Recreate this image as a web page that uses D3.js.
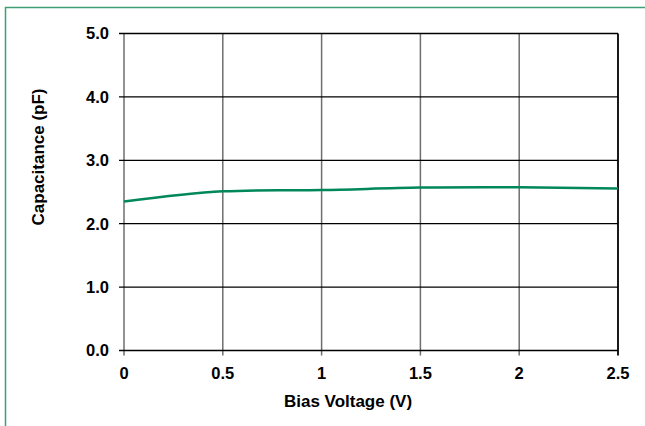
<!DOCTYPE html>
<html>
<head>
<meta charset="utf-8">
<script src="https://cdn.jsdelivr.net/npm/d3@7"></script>
<style>
  body { margin: 0; background: #fff; }
  text { font-family: "Liberation Sans", Arial, sans-serif; font-weight: bold; fill: #000; }
</style>
</head>
<body>
<svg id="chart"></svg>
<script>
// data
var voltage = [0, 0.5, 1, 1.5, 2, 2.5];
var capacitance = [2.35, 2.51, 2.53, 2.57, 2.575, 2.555];
var xTicks = [0, 0.5, 1, 1.5, 2, 2.5];
var yTicks = [0, 1, 2, 3, 4, 5];
var xTitle = "Bias Voltage (V)";
var yTitle = "Capacitance (pF)";

var W = 645, H = 426;
var plotL = 124, plotR = 618, plotT = 33.5, plotB = 350.5;

var svg = d3.select("#chart").attr("width", W).attr("height", H);

// outer frame (clipped on right/bottom like the picture)
svg.append("rect")
  .attr("x", 5.5).attr("y", 7.5)
  .attr("width", 700).attr("height", 500)
  .attr("fill", "none")
  .attr("stroke", "#3f9e74")
  .attr("stroke-width", 1.5);

var x = d3.scaleLinear().domain([0, 2.5]).range([plotL, plotR]);
var y = d3.scaleLinear().domain([0, 5]).range([plotB, plotT]);

// vertical grid (grey)
svg.selectAll("line.vgrid")
  .data(xTicks.filter(function(d){ return d < 2.5; }))
  .enter().append("line")
  .attr("class", "vgrid")
  .attr("x1", function(d){ return x(d); })
  .attr("x2", function(d){ return x(d); })
  .attr("y1", plotT).attr("y2", plotB + 5)
  .attr("stroke", "#6e6e6e")
  .attr("stroke-width", 1.5);

// horizontal grid (black)
svg.selectAll("line.hgrid")
  .data(yTicks)
  .enter().append("line")
  .attr("class", "hgrid")
  .attr("x1", plotL - 5).attr("x2", plotR)
  .attr("y1", function(d){ return y(d); })
  .attr("y2", function(d){ return y(d); })
  .attr("stroke", "#000")
  .attr("stroke-width", 1.3);

// right border
svg.append("line")
  .attr("x1", plotR).attr("x2", plotR)
  .attr("y1", plotT).attr("y2", plotB + 5)
  .attr("stroke", "#000")
  .attr("stroke-width", 1.8);

// tick labels
svg.selectAll("text.ylab")
  .data(yTicks)
  .enter().append("text")
  .attr("class", "ylab")
  .attr("x", 109)
  .attr("y", function(d){ return y(d); })
  .attr("dy", "0.36em")
  .attr("text-anchor", "end")
  .style("font-size", "16.5px")
  .text(function(d){ return d3.format(".1f")(d); });

svg.selectAll("text.xlab")
  .data(xTicks)
  .enter().append("text")
  .attr("class", "xlab")
  .attr("x", function(d){ return x(d); })
  .attr("y", 379)
  .attr("text-anchor", "middle")
  .style("font-size", "16.5px")
  .text(function(d){ return d; });

// axis titles
svg.append("text")
  .attr("x", 348).attr("y", 407)
  .attr("text-anchor", "middle")
  .style("font-size", "17px")
  .text(xTitle);

svg.append("text")
  .attr("transform", "translate(44,157) rotate(-90)")
  .attr("text-anchor", "middle")
  .style("font-size", "17px")
  .text(yTitle);

// curve
var pts = voltage.map(function(v, i){ return [v, capacitance[i]]; });
var line = d3.line()
  .x(function(d){ return x(d[0]); })
  .y(function(d){ return y(d[1]); })
  .curve(d3.curveCatmullRom.alpha(0.5));

svg.append("path")
  .datum(pts)
  .attr("d", line)
  .attr("fill", "none")
  .attr("stroke", "#00875a")
  .attr("stroke-width", 2.5);
</script>
</body>
</html>
